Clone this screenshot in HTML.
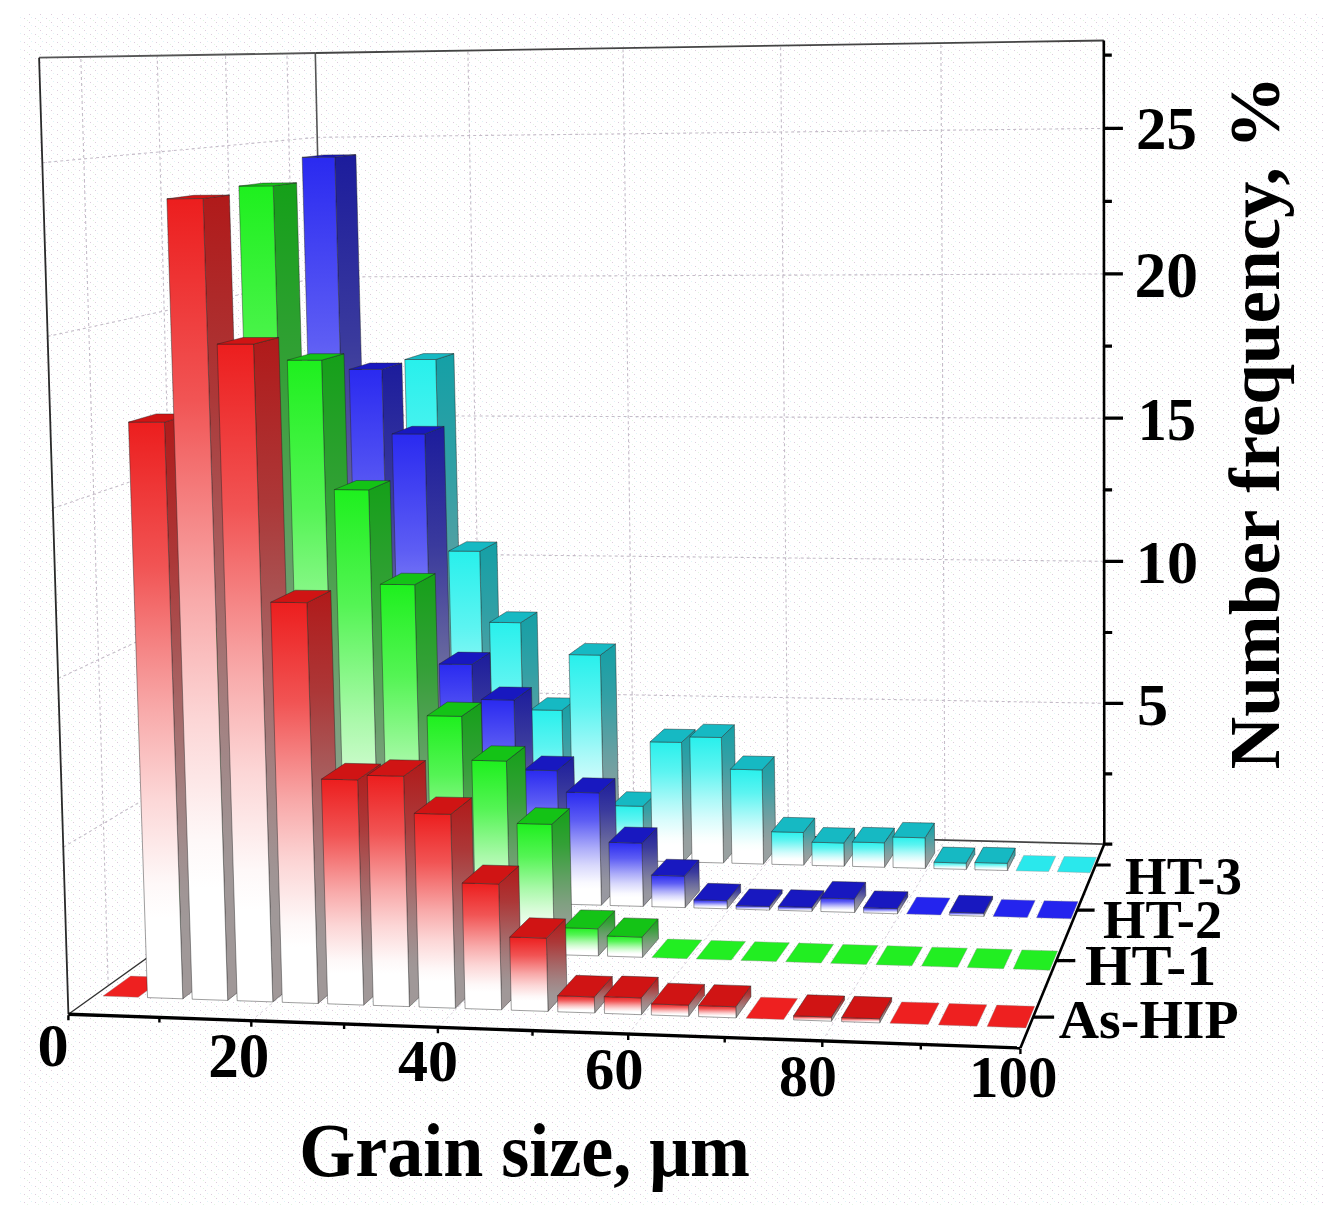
<!DOCTYPE html>
<html><head><meta charset="utf-8"><style>html,body{margin:0;padding:0;background:#fff;}svg{display:block;}</style></head>
<body><svg width="1344" height="1222" viewBox="0 0 1344 1222">
<defs>
<pattern id="dots" width="11" height="8" patternUnits="userSpaceOnUse"><rect x="2" y="2" width="1" height="1" fill="#dccbdc"/><rect x="7" y="6" width="1" height="1" fill="#dccbdc"/><rect x="5" y="4" width="1" height="1" fill="#e2f6e2"/><rect x="9" y="1" width="1" height="1" fill="#e0f4f8"/></pattern>
<linearGradient id="f0" x1="0" y1="0" x2="0" y2="1"><stop offset="0" stop-color="#ec1e1e"/><stop offset="0.25" stop-color="#f15454"/><stop offset="0.5" stop-color="#f8aaaa"/><stop offset="0.65" stop-color="#fcd6d6"/><stop offset="0.8" stop-color="#fef8f8"/><stop offset="0.86" stop-color="#ffffff"/></linearGradient>
<linearGradient id="s0" x1="0" y1="0" x2="0" y2="1"><stop offset="0" stop-color="#b01a1a"/><stop offset="0.25" stop-color="#ac3838"/><stop offset="0.5" stop-color="#a66868"/><stop offset="0.65" stop-color="#a38181"/><stop offset="0.8" stop-color="#a09494"/><stop offset="0.86" stop-color="#a09898"/></linearGradient>
<linearGradient id="f1" x1="0" y1="0" x2="0" y2="1"><stop offset="0" stop-color="#1ef01e"/><stop offset="0.25" stop-color="#54f454"/><stop offset="0.5" stop-color="#aaf9aa"/><stop offset="0.65" stop-color="#d6fcd6"/><stop offset="0.8" stop-color="#f8fff8"/><stop offset="0.86" stop-color="#ffffff"/></linearGradient>
<linearGradient id="s1" x1="0" y1="0" x2="0" y2="1"><stop offset="0" stop-color="#15a019"/><stop offset="0.25" stop-color="#34a037"/><stop offset="0.5" stop-color="#66a068"/><stop offset="0.65" stop-color="#80a081"/><stop offset="0.8" stop-color="#94a094"/><stop offset="0.86" stop-color="#98a098"/></linearGradient>
<linearGradient id="f2" x1="0" y1="0" x2="0" y2="1"><stop offset="0" stop-color="#2a2af0"/><stop offset="0.25" stop-color="#5d5df4"/><stop offset="0.5" stop-color="#aeaef9"/><stop offset="0.65" stop-color="#d9d9fc"/><stop offset="0.8" stop-color="#f9f9ff"/><stop offset="0.86" stop-color="#ffffff"/></linearGradient>
<linearGradient id="s2" x1="0" y1="0" x2="0" y2="1"><stop offset="0" stop-color="#1c1c9c"/><stop offset="0.25" stop-color="#3a3a9d"/><stop offset="0.5" stop-color="#69699e"/><stop offset="0.65" stop-color="#82829f"/><stop offset="0.8" stop-color="#9494a0"/><stop offset="0.86" stop-color="#9898a0"/></linearGradient>
<linearGradient id="f3" x1="0" y1="0" x2="0" y2="1"><stop offset="0" stop-color="#28f0ec"/><stop offset="0.25" stop-color="#5cf4f1"/><stop offset="0.5" stop-color="#adf9f8"/><stop offset="0.65" stop-color="#d8fcfc"/><stop offset="0.8" stop-color="#f9fffe"/><stop offset="0.86" stop-color="#ffffff"/></linearGradient>
<linearGradient id="s3" x1="0" y1="0" x2="0" y2="1"><stop offset="0" stop-color="#14a0a6"/><stop offset="0.25" stop-color="#34a0a5"/><stop offset="0.5" stop-color="#66a0a2"/><stop offset="0.65" stop-color="#80a0a1"/><stop offset="0.8" stop-color="#94a0a0"/><stop offset="0.86" stop-color="#98a0a0"/></linearGradient>
</defs>
<rect width="1344" height="1222" fill="#fff"/>
<rect x="20" y="13" width="1305" height="1192" fill="url(#dots)"/>
<path d="M482.3 828.5L467.9 50.5M634.1 832.3L623.0 48.1M788.3 836.2L780.6 45.6M945.0 840.1L940.9 43.1M329.8 689.5L1104.2 703.3M63.3 847.2L329.8 689.5M326.7 553.0L1104.1 561.3M58.1 678.6L326.7 553.0M323.6 415.5L1104.0 418.2M52.9 508.3L323.6 415.5M320.4 277.0L1103.9 273.9M47.6 336.4L320.4 277.0M317.2 137.3L1103.9 128.4M42.3 162.7L317.2 137.3M108.2 985.7L80.8 57.0M181.2 933.4L157.2 55.7M246.6 886.6L225.5 54.5M305.6 844.4L286.9 53.4" stroke="#c4bcc8" stroke-width="1.1" stroke-dasharray="3 3" fill="none"/>
<path d="M251.3 1020.7L482.3 828.5M437.9 1027.3L634.1 832.3M628.2 1034.1L788.3 836.2M822.3 1041.0L945.0 840.1" stroke="#d8d2dc" stroke-width="1" stroke-dasharray="3 3" fill="none"/>
<line x1="332.9" y1="824.8" x2="315.3" y2="53.0" stroke="#555" stroke-width="1.6"/>
<line x1="39.1" y1="57.7" x2="315.3" y2="53.0" stroke="#555" stroke-width="1.8"/>
<line x1="315.3" y1="53.0" x2="1103.8" y2="40.5" stroke="#444" stroke-width="1.8"/>
<line x1="332.9" y1="824.8" x2="1104.3" y2="844.1" stroke="#444" stroke-width="1.8"/>
<line x1="68.4" y1="1014.2" x2="332.9" y2="824.8" stroke="#333" stroke-width="1.4"/>
<polygon points="331.7,838.7 351.3,824.4 351.7,838.2 332.1,852.6" fill="url(#s3)" stroke="#222" stroke-width="0.8" stroke-opacity="0.55" stroke-linejoin="round"/>
<polygon points="301.5,837.9 331.7,838.7 332.1,852.6 301.9,851.8" fill="url(#f3)" stroke="#222" stroke-width="0.8" stroke-opacity="0.55" stroke-linejoin="round"/>
<polygon points="301.5,837.9 331.7,838.7 351.3,824.4 321.6,823.7" fill="#16b9c3" stroke="#222" stroke-width="0.8" stroke-opacity="0.55" stroke-linejoin="round"/>
<polygon points="367.6,741.4 386.6,728.8 389.5,839.1 370.6,853.7" fill="url(#s3)" stroke="#222" stroke-width="0.8" stroke-opacity="0.55" stroke-linejoin="round"/>
<polygon points="337.1,740.8 367.6,741.4 370.6,853.7 340.2,852.9" fill="url(#f3)" stroke="#222" stroke-width="0.8" stroke-opacity="0.55" stroke-linejoin="round"/>
<polygon points="337.1,740.8 367.6,741.4 386.6,728.8 356.7,728.2" fill="#16b9c3" stroke="#222" stroke-width="0.8" stroke-opacity="0.55" stroke-linejoin="round"/>
<polygon points="400.5,515.1 419.1,506.4 427.4,840.1 409.1,854.7" fill="url(#s3)" stroke="#222" stroke-width="0.8" stroke-opacity="0.55" stroke-linejoin="round"/>
<polygon points="369.7,514.8 400.5,515.1 409.1,854.7 378.6,853.9" fill="url(#f3)" stroke="#222" stroke-width="0.8" stroke-opacity="0.55" stroke-linejoin="round"/>
<polygon points="369.7,514.8 400.5,515.1 419.1,506.4 388.9,506.2" fill="#16b9c3" stroke="#222" stroke-width="0.8" stroke-opacity="0.55" stroke-linejoin="round"/>
<polygon points="435.8,359.5 453.9,353.6 465.5,841.1 447.9,855.7" fill="url(#s3)" stroke="#222" stroke-width="0.8" stroke-opacity="0.55" stroke-linejoin="round"/>
<polygon points="404.8,359.5 435.8,359.5 447.9,855.7 417.2,854.9" fill="url(#f3)" stroke="#222" stroke-width="0.8" stroke-opacity="0.55" stroke-linejoin="round"/>
<polygon points="404.8,359.5 435.8,359.5 453.9,353.6 423.4,353.6" fill="#16b9c3" stroke="#222" stroke-width="0.8" stroke-opacity="0.55" stroke-linejoin="round"/>
<polygon points="479.7,551.3 496.9,542.0 503.7,842.1 486.8,856.7" fill="url(#s3)" stroke="#222" stroke-width="0.8" stroke-opacity="0.55" stroke-linejoin="round"/>
<polygon points="448.7,551.0 479.7,551.3 486.8,856.7 456.0,855.9" fill="url(#f3)" stroke="#222" stroke-width="0.8" stroke-opacity="0.55" stroke-linejoin="round"/>
<polygon points="448.7,551.0 479.7,551.3 496.9,542.0 466.5,541.7" fill="#16b9c3" stroke="#222" stroke-width="0.8" stroke-opacity="0.55" stroke-linejoin="round"/>
<polygon points="520.6,622.7 537.1,612.1 542.1,843.0 525.8,857.8" fill="url(#s3)" stroke="#222" stroke-width="0.8" stroke-opacity="0.55" stroke-linejoin="round"/>
<polygon points="489.6,622.3 520.6,622.7 525.8,857.8 494.9,857.0" fill="url(#f3)" stroke="#222" stroke-width="0.8" stroke-opacity="0.55" stroke-linejoin="round"/>
<polygon points="489.6,622.3 520.6,622.7 537.1,612.1 506.6,611.7" fill="#16b9c3" stroke="#222" stroke-width="0.8" stroke-opacity="0.55" stroke-linejoin="round"/>
<polygon points="561.9,710.4 577.7,698.2 580.6,844.0 565.0,858.8" fill="url(#s3)" stroke="#222" stroke-width="0.8" stroke-opacity="0.55" stroke-linejoin="round"/>
<polygon points="530.8,709.8 561.9,710.4 565.0,858.8 534.0,858.0" fill="url(#f3)" stroke="#222" stroke-width="0.8" stroke-opacity="0.55" stroke-linejoin="round"/>
<polygon points="530.8,709.8 561.9,710.4 577.7,698.2 547.1,697.7" fill="#16b9c3" stroke="#222" stroke-width="0.8" stroke-opacity="0.55" stroke-linejoin="round"/>
<polygon points="600.3,655.1 615.5,643.9 619.3,845.0 604.4,859.9" fill="url(#s3)" stroke="#222" stroke-width="0.8" stroke-opacity="0.55" stroke-linejoin="round"/>
<polygon points="569.1,654.6 600.3,655.1 604.4,859.9 573.3,859.0" fill="url(#f3)" stroke="#222" stroke-width="0.8" stroke-opacity="0.55" stroke-linejoin="round"/>
<polygon points="569.1,654.6 600.3,655.1 615.5,643.9 584.7,643.4" fill="#16b9c3" stroke="#222" stroke-width="0.8" stroke-opacity="0.55" stroke-linejoin="round"/>
<polygon points="642.9,806.3 657.2,792.4 658.2,846.0 643.9,860.9" fill="url(#s3)" stroke="#222" stroke-width="0.8" stroke-opacity="0.55" stroke-linejoin="round"/>
<polygon points="611.6,805.6 642.9,806.3 643.9,860.9 612.7,860.1" fill="url(#f3)" stroke="#222" stroke-width="0.8" stroke-opacity="0.55" stroke-linejoin="round"/>
<polygon points="611.6,805.6 642.9,806.3 657.2,792.4 626.5,791.7" fill="#16b9c3" stroke="#222" stroke-width="0.8" stroke-opacity="0.55" stroke-linejoin="round"/>
<polygon points="681.5,742.4 695.2,729.6 697.2,847.0 683.6,861.9" fill="url(#s3)" stroke="#222" stroke-width="0.8" stroke-opacity="0.55" stroke-linejoin="round"/>
<polygon points="650.1,741.8 681.5,742.4 683.6,861.9 652.3,861.1" fill="url(#f3)" stroke="#222" stroke-width="0.8" stroke-opacity="0.55" stroke-linejoin="round"/>
<polygon points="650.1,741.8 681.5,742.4 695.2,729.6 664.3,729.0" fill="#16b9c3" stroke="#222" stroke-width="0.8" stroke-opacity="0.55" stroke-linejoin="round"/>
<polygon points="721.4,737.5 734.4,724.8 736.4,848.0 723.5,863.0" fill="url(#s3)" stroke="#222" stroke-width="0.8" stroke-opacity="0.55" stroke-linejoin="round"/>
<polygon points="689.8,736.9 721.4,737.5 723.5,863.0 692.0,862.2" fill="url(#f3)" stroke="#222" stroke-width="0.8" stroke-opacity="0.55" stroke-linejoin="round"/>
<polygon points="689.8,736.9 721.4,737.5 734.4,724.8 703.4,724.2" fill="#16b9c3" stroke="#222" stroke-width="0.8" stroke-opacity="0.55" stroke-linejoin="round"/>
<polygon points="762.1,769.9 774.3,756.6 775.7,849.0 763.5,864.1" fill="url(#s3)" stroke="#222" stroke-width="0.8" stroke-opacity="0.55" stroke-linejoin="round"/>
<polygon points="730.4,769.2 762.1,769.9 763.5,864.1 731.9,863.2" fill="url(#f3)" stroke="#222" stroke-width="0.8" stroke-opacity="0.55" stroke-linejoin="round"/>
<polygon points="730.4,769.2 762.1,769.9 774.3,756.6 743.2,755.9" fill="#16b9c3" stroke="#222" stroke-width="0.8" stroke-opacity="0.55" stroke-linejoin="round"/>
<polygon points="803.3,832.5 814.8,818.0 815.2,850.1 803.7,865.1" fill="url(#s3)" stroke="#222" stroke-width="0.8" stroke-opacity="0.55" stroke-linejoin="round"/>
<polygon points="771.5,831.7 803.3,832.5 803.7,865.1 771.9,864.3" fill="url(#f3)" stroke="#222" stroke-width="0.8" stroke-opacity="0.55" stroke-linejoin="round"/>
<polygon points="771.5,831.7 803.3,832.5 814.8,818.0 783.5,817.3" fill="#16b9c3" stroke="#222" stroke-width="0.8" stroke-opacity="0.55" stroke-linejoin="round"/>
<polygon points="843.8,843.0 854.6,828.3 854.9,851.1 844.1,866.2" fill="url(#s3)" stroke="#222" stroke-width="0.8" stroke-opacity="0.55" stroke-linejoin="round"/>
<polygon points="811.9,842.2 843.8,843.0 844.1,866.2 812.2,865.4" fill="url(#f3)" stroke="#222" stroke-width="0.8" stroke-opacity="0.55" stroke-linejoin="round"/>
<polygon points="811.9,842.2 843.8,843.0 854.6,828.3 823.2,827.5" fill="#16b9c3" stroke="#222" stroke-width="0.8" stroke-opacity="0.55" stroke-linejoin="round"/>
<polygon points="884.3,842.8 894.4,828.1 894.7,852.1 884.6,867.3" fill="url(#s3)" stroke="#222" stroke-width="0.8" stroke-opacity="0.55" stroke-linejoin="round"/>
<polygon points="852.3,842.0 884.3,842.8 884.6,867.3 852.6,866.4" fill="url(#f3)" stroke="#222" stroke-width="0.8" stroke-opacity="0.55" stroke-linejoin="round"/>
<polygon points="852.3,842.0 884.3,842.8 894.4,828.1 862.9,827.3" fill="#16b9c3" stroke="#222" stroke-width="0.8" stroke-opacity="0.55" stroke-linejoin="round"/>
<polygon points="925.0,837.8 934.4,823.1 934.7,853.1 925.3,868.4" fill="url(#s3)" stroke="#222" stroke-width="0.8" stroke-opacity="0.55" stroke-linejoin="round"/>
<polygon points="892.8,837.0 925.0,837.8 925.3,868.4 893.1,867.5" fill="url(#f3)" stroke="#222" stroke-width="0.8" stroke-opacity="0.55" stroke-linejoin="round"/>
<polygon points="892.8,837.0 925.0,837.8 934.4,823.1 902.7,822.4" fill="#16b9c3" stroke="#222" stroke-width="0.8" stroke-opacity="0.55" stroke-linejoin="round"/>
<polygon points="966.2,863.1 974.8,847.9 974.9,854.2 966.3,869.4" fill="url(#s3)" stroke="#222" stroke-width="0.8" stroke-opacity="0.55" stroke-linejoin="round"/>
<polygon points="933.9,862.2 966.2,863.1 966.3,869.4 933.9,868.6" fill="url(#f3)" stroke="#222" stroke-width="0.8" stroke-opacity="0.55" stroke-linejoin="round"/>
<polygon points="933.9,862.2 966.2,863.1 974.8,847.9 943.1,847.1" fill="#16b9c3" stroke="#222" stroke-width="0.8" stroke-opacity="0.55" stroke-linejoin="round"/>
<polygon points="1007.3,863.3 1015.2,848.1 1015.2,855.2 1007.4,870.5" fill="url(#s3)" stroke="#222" stroke-width="0.8" stroke-opacity="0.55" stroke-linejoin="round"/>
<polygon points="974.8,862.5 1007.3,863.3 1007.4,870.5 974.9,869.7" fill="url(#f3)" stroke="#222" stroke-width="0.8" stroke-opacity="0.55" stroke-linejoin="round"/>
<polygon points="974.8,862.5 1007.3,863.3 1015.2,848.1 983.3,847.3" fill="#16b9c3" stroke="#222" stroke-width="0.8" stroke-opacity="0.55" stroke-linejoin="round"/>
<polygon points="1016.0,870.8 1048.6,871.6 1055.8,856.2 1023.7,855.4" fill="#2ae8ec" stroke="#888" stroke-width="0.6" stroke-opacity="0.6"/>
<polygon points="1057.3,871.8 1090.1,872.7 1096.5,857.3 1064.3,856.5" fill="#2ae8ec" stroke="#888" stroke-width="0.6" stroke-opacity="0.6"/>
<polygon points="273.1,866.4 294.8,850.9 295.6,879.7 274.0,895.8" fill="url(#s2)" stroke="#222" stroke-width="0.8" stroke-opacity="0.55" stroke-linejoin="round"/>
<polygon points="241.4,865.5 273.1,866.4 274.0,895.8 242.3,894.9" fill="url(#f2)" stroke="#222" stroke-width="0.8" stroke-opacity="0.55" stroke-linejoin="round"/>
<polygon points="241.4,865.5 273.1,866.4 294.8,850.9 263.6,850.1" fill="#1818c0" stroke="#222" stroke-width="0.8" stroke-opacity="0.55" stroke-linejoin="round"/>
<polygon points="307.6,660.0 328.9,648.3 335.2,880.8 314.3,896.9" fill="url(#s2)" stroke="#222" stroke-width="0.8" stroke-opacity="0.55" stroke-linejoin="round"/>
<polygon points="275.6,659.5 307.6,660.0 314.3,896.9 282.4,896.0" fill="url(#f2)" stroke="#222" stroke-width="0.8" stroke-opacity="0.55" stroke-linejoin="round"/>
<polygon points="275.6,659.5 307.6,660.0 328.9,648.3 297.3,647.8" fill="#1818c0" stroke="#222" stroke-width="0.8" stroke-opacity="0.55" stroke-linejoin="round"/>
<polygon points="334.8,157.0 355.9,154.7 375.0,882.0 354.8,898.1" fill="url(#s2)" stroke="#222" stroke-width="0.8" stroke-opacity="0.55" stroke-linejoin="round"/>
<polygon points="302.2,157.4 334.8,157.0 354.8,898.1 322.8,897.2" fill="url(#f2)" stroke="#222" stroke-width="0.8" stroke-opacity="0.55" stroke-linejoin="round"/>
<polygon points="302.2,157.4 334.8,157.0 355.9,154.7 323.8,155.0" fill="#1818c0" stroke="#222" stroke-width="0.8" stroke-opacity="0.55" stroke-linejoin="round"/>
<polygon points="381.8,369.4 401.9,363.1 415.0,883.1 395.5,899.3" fill="url(#s2)" stroke="#222" stroke-width="0.8" stroke-opacity="0.55" stroke-linejoin="round"/>
<polygon points="349.2,369.4 381.8,369.4 395.5,899.3 363.3,898.3" fill="url(#f2)" stroke="#222" stroke-width="0.8" stroke-opacity="0.55" stroke-linejoin="round"/>
<polygon points="349.2,369.4 381.8,369.4 401.9,363.1 369.8,363.0" fill="#1818c0" stroke="#222" stroke-width="0.8" stroke-opacity="0.55" stroke-linejoin="round"/>
<polygon points="424.8,434.0 444.1,426.4 455.1,884.2 436.3,900.5" fill="url(#s2)" stroke="#222" stroke-width="0.8" stroke-opacity="0.55" stroke-linejoin="round"/>
<polygon points="392.1,433.9 424.8,434.0 436.3,900.5 404.0,899.5" fill="url(#f2)" stroke="#222" stroke-width="0.8" stroke-opacity="0.55" stroke-linejoin="round"/>
<polygon points="392.1,433.9 424.8,434.0 444.1,426.4 412.0,426.3" fill="#1818c0" stroke="#222" stroke-width="0.8" stroke-opacity="0.55" stroke-linejoin="round"/>
<polygon points="471.8,664.5 490.0,652.6 495.4,885.3 477.3,901.6" fill="url(#s2)" stroke="#222" stroke-width="0.8" stroke-opacity="0.55" stroke-linejoin="round"/>
<polygon points="439.1,664.0 471.8,664.5 477.3,901.6 444.9,900.7" fill="url(#f2)" stroke="#222" stroke-width="0.8" stroke-opacity="0.55" stroke-linejoin="round"/>
<polygon points="439.1,664.0 471.8,664.5 490.0,652.6 458.0,652.1" fill="#1818c0" stroke="#222" stroke-width="0.8" stroke-opacity="0.55" stroke-linejoin="round"/>
<polygon points="514.0,700.1 531.5,687.5 535.8,886.4 518.5,902.8" fill="url(#s2)" stroke="#222" stroke-width="0.8" stroke-opacity="0.55" stroke-linejoin="round"/>
<polygon points="481.3,699.5 514.0,700.1 518.5,902.8 486.0,901.9" fill="url(#f2)" stroke="#222" stroke-width="0.8" stroke-opacity="0.55" stroke-linejoin="round"/>
<polygon points="481.3,699.5 514.0,700.1 531.5,687.5 499.4,686.9" fill="#1818c0" stroke="#222" stroke-width="0.8" stroke-opacity="0.55" stroke-linejoin="round"/>
<polygon points="557.1,770.7 573.8,756.7 576.5,887.6 559.9,904.0" fill="url(#s2)" stroke="#222" stroke-width="0.8" stroke-opacity="0.55" stroke-linejoin="round"/>
<polygon points="524.3,769.9 557.1,770.7 559.9,904.0 527.2,903.1" fill="url(#f2)" stroke="#222" stroke-width="0.8" stroke-opacity="0.55" stroke-linejoin="round"/>
<polygon points="524.3,769.9 557.1,770.7 573.8,756.7 541.5,756.0" fill="#1818c0" stroke="#222" stroke-width="0.8" stroke-opacity="0.55" stroke-linejoin="round"/>
<polygon points="599.2,792.9 615.1,778.5 617.3,888.7 601.4,905.2" fill="url(#s2)" stroke="#222" stroke-width="0.8" stroke-opacity="0.55" stroke-linejoin="round"/>
<polygon points="566.3,792.2 599.2,792.9 601.4,905.2 568.6,904.3" fill="url(#f2)" stroke="#222" stroke-width="0.8" stroke-opacity="0.55" stroke-linejoin="round"/>
<polygon points="566.3,792.2 599.2,792.9 615.1,778.5 582.8,777.8" fill="#1818c0" stroke="#222" stroke-width="0.8" stroke-opacity="0.55" stroke-linejoin="round"/>
<polygon points="642.0,843.2 657.1,827.8 658.2,889.9 643.2,906.4" fill="url(#s2)" stroke="#222" stroke-width="0.8" stroke-opacity="0.55" stroke-linejoin="round"/>
<polygon points="608.9,842.3 642.0,843.2 643.2,906.4 610.2,905.5" fill="url(#f2)" stroke="#222" stroke-width="0.8" stroke-opacity="0.55" stroke-linejoin="round"/>
<polygon points="608.9,842.3 642.0,843.2 657.1,827.8 624.7,827.0" fill="#1818c0" stroke="#222" stroke-width="0.8" stroke-opacity="0.55" stroke-linejoin="round"/>
<polygon points="684.5,876.1 698.9,860.1 699.4,891.0 685.1,907.6" fill="url(#s2)" stroke="#222" stroke-width="0.8" stroke-opacity="0.55" stroke-linejoin="round"/>
<polygon points="651.4,875.2 684.5,876.1 685.1,907.6 652.0,906.7" fill="url(#f2)" stroke="#222" stroke-width="0.8" stroke-opacity="0.55" stroke-linejoin="round"/>
<polygon points="651.4,875.2 684.5,876.1 698.9,860.1 666.3,859.2" fill="#1818c0" stroke="#222" stroke-width="0.8" stroke-opacity="0.55" stroke-linejoin="round"/>
<polygon points="727.0,900.7 740.6,884.2 740.7,892.2 727.2,908.8" fill="url(#s2)" stroke="#222" stroke-width="0.8" stroke-opacity="0.55" stroke-linejoin="round"/>
<polygon points="693.8,899.8 727.0,900.7 727.2,908.8 693.9,907.9" fill="url(#f2)" stroke="#222" stroke-width="0.8" stroke-opacity="0.55" stroke-linejoin="round"/>
<polygon points="693.8,899.8 727.0,900.7 740.6,884.2 707.9,883.3" fill="#1818c0" stroke="#222" stroke-width="0.8" stroke-opacity="0.55" stroke-linejoin="round"/>
<polygon points="769.4,906.5 782.2,889.8 782.2,893.3 769.5,910.1" fill="url(#s2)" stroke="#222" stroke-width="0.8" stroke-opacity="0.55" stroke-linejoin="round"/>
<polygon points="736.0,905.5 769.4,906.5 769.5,910.1 736.0,909.1" fill="url(#f2)" stroke="#222" stroke-width="0.8" stroke-opacity="0.55" stroke-linejoin="round"/>
<polygon points="736.0,905.5 769.4,906.5 782.2,889.8 749.4,888.9" fill="#1818c0" stroke="#222" stroke-width="0.8" stroke-opacity="0.55" stroke-linejoin="round"/>
<polygon points="811.9,907.4 823.8,890.7 823.9,894.5 811.9,911.3" fill="url(#s2)" stroke="#222" stroke-width="0.8" stroke-opacity="0.55" stroke-linejoin="round"/>
<polygon points="778.3,906.4 811.9,907.4 811.9,911.3 778.4,910.3" fill="url(#f2)" stroke="#222" stroke-width="0.8" stroke-opacity="0.55" stroke-linejoin="round"/>
<polygon points="778.3,906.4 811.9,907.4 823.8,890.7 790.9,889.7" fill="#1818c0" stroke="#222" stroke-width="0.8" stroke-opacity="0.55" stroke-linejoin="round"/>
<polygon points="854.4,898.9 865.6,882.3 865.8,895.7 854.6,912.5" fill="url(#s2)" stroke="#222" stroke-width="0.8" stroke-opacity="0.55" stroke-linejoin="round"/>
<polygon points="820.7,898.0 854.4,898.9 854.6,912.5 820.9,911.5" fill="url(#f2)" stroke="#222" stroke-width="0.8" stroke-opacity="0.55" stroke-linejoin="round"/>
<polygon points="820.7,898.0 854.4,898.9 865.6,882.3 832.5,881.4" fill="#1818c0" stroke="#222" stroke-width="0.8" stroke-opacity="0.55" stroke-linejoin="round"/>
<polygon points="897.4,908.6 907.8,891.8 907.9,896.9 897.5,913.8" fill="url(#s2)" stroke="#222" stroke-width="0.8" stroke-opacity="0.55" stroke-linejoin="round"/>
<polygon points="863.5,907.6 897.4,908.6 897.5,913.8 863.6,912.8" fill="url(#f2)" stroke="#222" stroke-width="0.8" stroke-opacity="0.55" stroke-linejoin="round"/>
<polygon points="863.5,907.6 897.4,908.6 907.8,891.8 874.5,890.9" fill="#1818c0" stroke="#222" stroke-width="0.8" stroke-opacity="0.55" stroke-linejoin="round"/>
<polygon points="906.5,914.0 940.6,915.0 950.1,898.0 916.7,897.1" fill="#2424ee" stroke="#888" stroke-width="0.6" stroke-opacity="0.6"/>
<polygon points="983.8,913.2 992.6,896.2 992.6,899.2 983.8,916.3" fill="url(#s2)" stroke="#222" stroke-width="0.8" stroke-opacity="0.55" stroke-linejoin="round"/>
<polygon points="949.6,912.2 983.8,913.2 983.8,916.3 949.6,915.3" fill="url(#f2)" stroke="#222" stroke-width="0.8" stroke-opacity="0.55" stroke-linejoin="round"/>
<polygon points="949.6,912.2 983.8,913.2 992.6,896.2 959.0,895.3" fill="#1818c0" stroke="#222" stroke-width="0.8" stroke-opacity="0.55" stroke-linejoin="round"/>
<polygon points="993.0,916.5 1027.3,917.5 1035.2,900.4 1001.5,899.5" fill="#2424ee" stroke="#888" stroke-width="0.6" stroke-opacity="0.6"/>
<polygon points="1036.5,917.8 1071.0,918.8 1078.1,901.6 1044.2,900.7" fill="#2424ee" stroke="#888" stroke-width="0.6" stroke-opacity="0.6"/>
<polygon points="208.2,881.7 232.3,865.1 234.2,925.9 210.1,943.7" fill="url(#s1)" stroke="#222" stroke-width="0.8" stroke-opacity="0.55" stroke-linejoin="round"/>
<polygon points="174.8,880.8 208.2,881.7 210.1,943.7 176.8,942.7" fill="url(#f1)" stroke="#222" stroke-width="0.8" stroke-opacity="0.55" stroke-linejoin="round"/>
<polygon points="174.8,880.8 208.2,881.7 232.3,865.1 199.5,864.2" fill="#14c316" stroke="#222" stroke-width="0.8" stroke-opacity="0.55" stroke-linejoin="round"/>
<polygon points="243.1,632.2 266.8,620.3 275.8,927.1 252.5,945.1" fill="url(#s1)" stroke="#222" stroke-width="0.8" stroke-opacity="0.55" stroke-linejoin="round"/>
<polygon points="209.3,631.7 243.1,632.2 252.5,945.1 219.0,944.0" fill="url(#f1)" stroke="#222" stroke-width="0.8" stroke-opacity="0.55" stroke-linejoin="round"/>
<polygon points="209.3,631.7 243.1,632.2 266.8,620.3 233.6,619.8" fill="#14c316" stroke="#222" stroke-width="0.8" stroke-opacity="0.55" stroke-linejoin="round"/>
<polygon points="273.2,185.8 296.6,182.8 317.5,928.4 295.0,946.4" fill="url(#s1)" stroke="#222" stroke-width="0.8" stroke-opacity="0.55" stroke-linejoin="round"/>
<polygon points="238.9,186.1 273.2,185.8 295.0,946.4 261.4,945.3" fill="url(#f1)" stroke="#222" stroke-width="0.8" stroke-opacity="0.55" stroke-linejoin="round"/>
<polygon points="238.9,186.1 273.2,185.8 296.6,182.8 262.9,183.1" fill="#14c316" stroke="#222" stroke-width="0.8" stroke-opacity="0.55" stroke-linejoin="round"/>
<polygon points="321.6,360.2 344.0,353.7 359.5,929.7 337.8,947.7" fill="url(#s1)" stroke="#222" stroke-width="0.8" stroke-opacity="0.55" stroke-linejoin="round"/>
<polygon points="287.3,360.2 321.6,360.2 337.8,947.7 304.0,946.7" fill="url(#f1)" stroke="#222" stroke-width="0.8" stroke-opacity="0.55" stroke-linejoin="round"/>
<polygon points="287.3,360.2 321.6,360.2 344.0,353.7 310.3,353.7" fill="#14c316" stroke="#222" stroke-width="0.8" stroke-opacity="0.55" stroke-linejoin="round"/>
<polygon points="368.7,489.9 390.1,480.7 401.6,931.0 380.7,949.1" fill="url(#s1)" stroke="#222" stroke-width="0.8" stroke-opacity="0.55" stroke-linejoin="round"/>
<polygon points="334.3,489.6 368.7,489.9 380.7,949.1 346.8,948.0" fill="url(#f1)" stroke="#222" stroke-width="0.8" stroke-opacity="0.55" stroke-linejoin="round"/>
<polygon points="334.3,489.6 368.7,489.9 390.1,480.7 356.4,480.5" fill="#14c316" stroke="#222" stroke-width="0.8" stroke-opacity="0.55" stroke-linejoin="round"/>
<polygon points="414.7,584.7 435.2,573.6 444.0,932.3 423.8,950.5" fill="url(#s1)" stroke="#222" stroke-width="0.8" stroke-opacity="0.55" stroke-linejoin="round"/>
<polygon points="380.3,584.3 414.7,584.7 423.8,950.5 389.7,949.4" fill="url(#f1)" stroke="#222" stroke-width="0.8" stroke-opacity="0.55" stroke-linejoin="round"/>
<polygon points="380.3,584.3 414.7,584.7 435.2,573.6 401.4,573.2" fill="#14c316" stroke="#222" stroke-width="0.8" stroke-opacity="0.55" stroke-linejoin="round"/>
<polygon points="461.6,716.3 481.1,702.7 486.5,933.6 467.2,951.8" fill="url(#s1)" stroke="#222" stroke-width="0.8" stroke-opacity="0.55" stroke-linejoin="round"/>
<polygon points="427.1,715.7 461.6,716.3 467.2,951.8 432.9,950.7" fill="url(#f1)" stroke="#222" stroke-width="0.8" stroke-opacity="0.55" stroke-linejoin="round"/>
<polygon points="427.1,715.7 461.6,716.3 481.1,702.7 447.3,702.0" fill="#14c316" stroke="#222" stroke-width="0.8" stroke-opacity="0.55" stroke-linejoin="round"/>
<polygon points="506.4,761.1 525.1,746.5 529.2,934.9 510.7,953.2" fill="url(#s1)" stroke="#222" stroke-width="0.8" stroke-opacity="0.55" stroke-linejoin="round"/>
<polygon points="471.8,760.3 506.4,761.1 510.7,953.2 476.3,952.1" fill="url(#f1)" stroke="#222" stroke-width="0.8" stroke-opacity="0.55" stroke-linejoin="round"/>
<polygon points="471.8,760.3 506.4,761.1 525.1,746.5 491.1,745.8" fill="#14c316" stroke="#222" stroke-width="0.8" stroke-opacity="0.55" stroke-linejoin="round"/>
<polygon points="551.7,824.3 569.4,808.5 572.1,936.2 554.4,954.6" fill="url(#s1)" stroke="#222" stroke-width="0.8" stroke-opacity="0.55" stroke-linejoin="round"/>
<polygon points="517.0,823.5 551.7,824.3 554.4,954.6 519.9,953.5" fill="url(#f1)" stroke="#222" stroke-width="0.8" stroke-opacity="0.55" stroke-linejoin="round"/>
<polygon points="517.0,823.5 551.7,824.3 569.4,808.5 535.4,807.7" fill="#14c316" stroke="#222" stroke-width="0.8" stroke-opacity="0.55" stroke-linejoin="round"/>
<polygon points="597.8,928.8 614.7,910.8 615.2,937.5 598.4,955.9" fill="url(#s1)" stroke="#222" stroke-width="0.8" stroke-opacity="0.55" stroke-linejoin="round"/>
<polygon points="563.1,927.7 597.8,928.8 598.4,955.9 563.7,954.9" fill="url(#f1)" stroke="#222" stroke-width="0.8" stroke-opacity="0.55" stroke-linejoin="round"/>
<polygon points="563.1,927.7 597.8,928.8 614.7,910.8 580.6,909.9" fill="#14c316" stroke="#222" stroke-width="0.8" stroke-opacity="0.55" stroke-linejoin="round"/>
<polygon points="642.1,937.1 658.1,918.9 658.5,938.8 642.5,957.3" fill="url(#s1)" stroke="#222" stroke-width="0.8" stroke-opacity="0.55" stroke-linejoin="round"/>
<polygon points="607.2,936.0 642.1,937.1 642.5,957.3 607.6,956.2" fill="url(#f1)" stroke="#222" stroke-width="0.8" stroke-opacity="0.55" stroke-linejoin="round"/>
<polygon points="607.2,936.0 642.1,937.1 658.1,918.9 623.9,917.9" fill="#14c316" stroke="#222" stroke-width="0.8" stroke-opacity="0.55" stroke-linejoin="round"/>
<polygon points="651.8,957.6 686.9,958.7 702.0,940.1 667.6,939.1" fill="#22ee22" stroke="#888" stroke-width="0.6" stroke-opacity="0.6"/>
<polygon points="696.2,959.0 731.4,960.1 745.6,941.5 711.1,940.4" fill="#22ee22" stroke="#888" stroke-width="0.6" stroke-opacity="0.6"/>
<polygon points="740.8,960.4 776.2,961.5 789.5,942.8 754.8,941.7" fill="#22ee22" stroke="#888" stroke-width="0.6" stroke-opacity="0.6"/>
<polygon points="785.6,961.8 821.1,963.0 833.6,944.2 798.8,943.1" fill="#22ee22" stroke="#888" stroke-width="0.6" stroke-opacity="0.6"/>
<polygon points="830.6,963.3 866.4,964.4 878.0,945.5 842.9,944.4" fill="#22ee22" stroke="#888" stroke-width="0.6" stroke-opacity="0.6"/>
<polygon points="875.9,964.7 911.9,965.8 922.6,946.9 887.3,945.8" fill="#22ee22" stroke="#888" stroke-width="0.6" stroke-opacity="0.6"/>
<polygon points="921.5,966.1 957.6,967.3 967.4,948.2 932.0,947.2" fill="#22ee22" stroke="#888" stroke-width="0.6" stroke-opacity="0.6"/>
<polygon points="967.2,967.6 1003.5,968.7 1012.4,949.6 976.8,948.5" fill="#22ee22" stroke="#888" stroke-width="0.6" stroke-opacity="0.6"/>
<polygon points="1013.2,969.0 1049.7,970.2 1057.6,951.0 1021.9,949.9" fill="#22ee22" stroke="#888" stroke-width="0.6" stroke-opacity="0.6"/>
<polygon points="103.0,996.1 138.2,997.3 165.1,977.3 130.7,976.1" fill="#ee2020" stroke="#888" stroke-width="0.6" stroke-opacity="0.6"/>
<polygon points="164.4,422.2 191.3,414.0 208.9,978.8 182.8,998.8" fill="url(#s0)" stroke="#222" stroke-width="0.8" stroke-opacity="0.55" stroke-linejoin="round"/>
<polygon points="128.5,422.1 164.4,422.2 182.8,998.8 147.5,997.6" fill="url(#f0)" stroke="#222" stroke-width="0.8" stroke-opacity="0.55" stroke-linejoin="round"/>
<polygon points="128.5,422.1 164.4,422.2 191.3,414.0 156.2,413.9" fill="#d01414" stroke="#222" stroke-width="0.8" stroke-opacity="0.55" stroke-linejoin="round"/>
<polygon points="203.1,198.5 229.4,195.0 252.9,980.2 227.7,1000.4" fill="url(#s0)" stroke="#222" stroke-width="0.8" stroke-opacity="0.55" stroke-linejoin="round"/>
<polygon points="166.9,198.8 203.1,198.5 227.7,1000.4 192.2,999.2" fill="url(#f0)" stroke="#222" stroke-width="0.8" stroke-opacity="0.55" stroke-linejoin="round"/>
<polygon points="166.9,198.8 203.1,198.5 229.4,195.0 193.9,195.3" fill="#d01414" stroke="#222" stroke-width="0.8" stroke-opacity="0.55" stroke-linejoin="round"/>
<polygon points="253.5,344.1 278.7,337.5 297.2,981.7 272.8,1001.9" fill="url(#s0)" stroke="#222" stroke-width="0.8" stroke-opacity="0.55" stroke-linejoin="round"/>
<polygon points="217.2,344.1 253.5,344.1 272.8,1001.9 237.2,1000.7" fill="url(#f0)" stroke="#222" stroke-width="0.8" stroke-opacity="0.55" stroke-linejoin="round"/>
<polygon points="217.2,344.1 253.5,344.1 278.7,337.5 243.1,337.5" fill="#d01414" stroke="#222" stroke-width="0.8" stroke-opacity="0.55" stroke-linejoin="round"/>
<polygon points="306.9,602.7 330.8,590.6 341.6,983.2 318.1,1003.5" fill="url(#s0)" stroke="#222" stroke-width="0.8" stroke-opacity="0.55" stroke-linejoin="round"/>
<polygon points="270.7,602.2 306.9,602.7 318.1,1003.5 282.3,1002.3" fill="url(#f0)" stroke="#222" stroke-width="0.8" stroke-opacity="0.55" stroke-linejoin="round"/>
<polygon points="270.7,602.2 306.9,602.7 330.8,590.6 295.3,590.2" fill="#d01414" stroke="#222" stroke-width="0.8" stroke-opacity="0.55" stroke-linejoin="round"/>
<polygon points="357.6,779.9 380.5,764.1 386.2,984.7 363.7,1005.1" fill="url(#s0)" stroke="#222" stroke-width="0.8" stroke-opacity="0.55" stroke-linejoin="round"/>
<polygon points="321.4,779.1 357.6,779.9 363.7,1005.1 327.7,1003.8" fill="url(#f0)" stroke="#222" stroke-width="0.8" stroke-opacity="0.55" stroke-linejoin="round"/>
<polygon points="321.4,779.1 357.6,779.9 380.5,764.1 345.0,763.3" fill="#d01414" stroke="#222" stroke-width="0.8" stroke-opacity="0.55" stroke-linejoin="round"/>
<polygon points="403.6,776.2 425.5,760.5 431.1,986.2 409.4,1006.6" fill="url(#s0)" stroke="#222" stroke-width="0.8" stroke-opacity="0.55" stroke-linejoin="round"/>
<polygon points="367.2,775.4 403.6,776.2 409.4,1006.6 373.3,1005.4" fill="url(#f0)" stroke="#222" stroke-width="0.8" stroke-opacity="0.55" stroke-linejoin="round"/>
<polygon points="367.2,775.4 403.6,776.2 425.5,760.5 389.8,759.7" fill="#d01414" stroke="#222" stroke-width="0.8" stroke-opacity="0.55" stroke-linejoin="round"/>
<polygon points="450.7,814.3 471.7,797.7 476.1,987.7 455.4,1008.2" fill="url(#s0)" stroke="#222" stroke-width="0.8" stroke-opacity="0.55" stroke-linejoin="round"/>
<polygon points="414.2,813.4 450.7,814.3 455.4,1008.2 419.1,1007.0" fill="url(#f0)" stroke="#222" stroke-width="0.8" stroke-opacity="0.55" stroke-linejoin="round"/>
<polygon points="414.2,813.4 450.7,814.3 471.7,797.7 435.9,796.9" fill="#d01414" stroke="#222" stroke-width="0.8" stroke-opacity="0.55" stroke-linejoin="round"/>
<polygon points="498.7,884.0 518.7,866.0 521.4,989.2 501.6,1009.8" fill="url(#s0)" stroke="#222" stroke-width="0.8" stroke-opacity="0.55" stroke-linejoin="round"/>
<polygon points="462.1,883.0 498.7,884.0 501.6,1009.8 465.1,1008.6" fill="url(#f0)" stroke="#222" stroke-width="0.8" stroke-opacity="0.55" stroke-linejoin="round"/>
<polygon points="462.1,883.0 498.7,884.0 518.7,866.0 482.8,865.0" fill="#d01414" stroke="#222" stroke-width="0.8" stroke-opacity="0.55" stroke-linejoin="round"/>
<polygon points="546.4,938.1 565.4,918.9 566.9,990.7 548.0,1011.4" fill="url(#s0)" stroke="#222" stroke-width="0.8" stroke-opacity="0.55" stroke-linejoin="round"/>
<polygon points="509.7,937.0 546.4,938.1 548.0,1011.4 511.3,1010.2" fill="url(#f0)" stroke="#222" stroke-width="0.8" stroke-opacity="0.55" stroke-linejoin="round"/>
<polygon points="509.7,937.0 546.4,938.1 565.4,918.9 529.4,917.8" fill="#d01414" stroke="#222" stroke-width="0.8" stroke-opacity="0.55" stroke-linejoin="round"/>
<polygon points="594.3,997.0 612.3,976.5 612.6,992.2 594.7,1013.0" fill="url(#s0)" stroke="#222" stroke-width="0.8" stroke-opacity="0.55" stroke-linejoin="round"/>
<polygon points="557.5,995.7 594.3,997.0 594.7,1013.0 557.8,1011.8" fill="url(#f0)" stroke="#222" stroke-width="0.8" stroke-opacity="0.55" stroke-linejoin="round"/>
<polygon points="557.5,995.7 594.3,997.0 612.3,976.5 576.1,975.3" fill="#d01414" stroke="#222" stroke-width="0.8" stroke-opacity="0.55" stroke-linejoin="round"/>
<polygon points="641.2,997.9 658.2,977.3 658.5,993.8 641.5,1014.7" fill="url(#s0)" stroke="#222" stroke-width="0.8" stroke-opacity="0.55" stroke-linejoin="round"/>
<polygon points="604.2,996.6 641.2,997.9 641.5,1014.7 604.5,1013.4" fill="url(#f0)" stroke="#222" stroke-width="0.8" stroke-opacity="0.55" stroke-linejoin="round"/>
<polygon points="604.2,996.6 641.2,997.9 658.2,977.3 621.9,976.1" fill="#d01414" stroke="#222" stroke-width="0.8" stroke-opacity="0.55" stroke-linejoin="round"/>
<polygon points="688.5,1005.2 704.5,984.4 704.6,995.3 688.7,1016.3" fill="url(#s0)" stroke="#222" stroke-width="0.8" stroke-opacity="0.55" stroke-linejoin="round"/>
<polygon points="651.2,1003.9 688.5,1005.2 688.7,1016.3 651.4,1015.0" fill="url(#f0)" stroke="#222" stroke-width="0.8" stroke-opacity="0.55" stroke-linejoin="round"/>
<polygon points="651.2,1003.9 688.5,1005.2 704.5,984.4 668.0,983.2" fill="#d01414" stroke="#222" stroke-width="0.8" stroke-opacity="0.55" stroke-linejoin="round"/>
<polygon points="735.8,1006.8 750.8,985.9 751.0,996.8 736.0,1017.9" fill="url(#s0)" stroke="#222" stroke-width="0.8" stroke-opacity="0.55" stroke-linejoin="round"/>
<polygon points="698.4,1005.5 735.8,1006.8 736.0,1017.9 698.6,1016.6" fill="url(#f0)" stroke="#222" stroke-width="0.8" stroke-opacity="0.55" stroke-linejoin="round"/>
<polygon points="698.4,1005.5 735.8,1006.8 750.8,985.9 714.2,984.7" fill="#d01414" stroke="#222" stroke-width="0.8" stroke-opacity="0.55" stroke-linejoin="round"/>
<polygon points="746.0,1018.3 783.6,1019.6 797.6,998.4 760.8,997.2" fill="#ee2020" stroke="#888" stroke-width="0.6" stroke-opacity="0.6"/>
<polygon points="831.5,1017.1 844.5,996.0 844.6,1000.0 831.5,1021.2" fill="url(#s0)" stroke="#222" stroke-width="0.8" stroke-opacity="0.55" stroke-linejoin="round"/>
<polygon points="793.5,1015.8 831.5,1017.1 831.5,1021.2 793.6,1019.9" fill="url(#f0)" stroke="#222" stroke-width="0.8" stroke-opacity="0.55" stroke-linejoin="round"/>
<polygon points="793.5,1015.8 831.5,1017.1 844.5,996.0 807.4,994.8" fill="#d01414" stroke="#222" stroke-width="0.8" stroke-opacity="0.55" stroke-linejoin="round"/>
<polygon points="879.7,1018.8 891.7,997.6 891.7,1001.5 879.7,1022.9" fill="url(#s0)" stroke="#222" stroke-width="0.8" stroke-opacity="0.55" stroke-linejoin="round"/>
<polygon points="841.6,1017.5 879.7,1018.8 879.7,1022.9 841.6,1021.6" fill="url(#f0)" stroke="#222" stroke-width="0.8" stroke-opacity="0.55" stroke-linejoin="round"/>
<polygon points="841.6,1017.5 879.7,1018.8 891.7,997.6 854.4,996.3" fill="#d01414" stroke="#222" stroke-width="0.8" stroke-opacity="0.55" stroke-linejoin="round"/>
<polygon points="889.9,1023.2 928.1,1024.5 939.2,1003.1 901.7,1001.9" fill="#ee2020" stroke="#888" stroke-width="0.6" stroke-opacity="0.6"/>
<polygon points="938.4,1024.9 976.8,1026.2 986.8,1004.7 949.1,1003.5" fill="#ee2020" stroke="#888" stroke-width="0.6" stroke-opacity="0.6"/>
<polygon points="987.1,1026.6 1025.8,1027.9 1034.7,1006.3 996.8,1005.1" fill="#ee2020" stroke="#888" stroke-width="0.6" stroke-opacity="0.6"/>
<line x1="68.4" y1="1014.2" x2="39.1" y2="57.7" stroke="#2a2a2a" stroke-width="1.8"/>
<line x1="1104.3" y1="844.1" x2="1103.8" y2="40.5" stroke="#000" stroke-width="2.6"/>
<line x1="68.4" y1="1014.2" x2="1020.4" y2="1048.0" stroke="#000" stroke-width="3.4"/>
<line x1="1020.4" y1="1048.0" x2="1104.3" y2="844.1" stroke="#000" stroke-width="2.6"/>
<path d="M1104.2 773.8h8M1104.2 703.3h19M1104.2 632.5h8M1104.1 561.3h19M1104.1 489.9h8M1104.0 418.2h19M1104.0 346.2h8M1103.9 273.9h19M1103.9 201.3h8M1103.9 128.4h19M1103.8 55.2h8M1033.1 1017.1h21.0M1056.3 960.6h19.0M1077.1 910.2h17.5M1095.7 865.0h15.0M1104.3 844.1h8" stroke="#000" stroke-width="3.2" fill="none"/>
<path d="M68.4 1015.2v5M159.4 1018.4v4M251.3 1021.7v5M344.1 1025.0v4M437.9 1028.3v5M532.5 1031.7v4M628.2 1035.1v5M724.7 1038.5v4M822.3 1042.0v5M920.8 1045.5v4M1020.4 1049.0v5" stroke="#000" stroke-width="2.4" fill="none"/>
<text transform="translate(37.52,1066.30) scale(1.0385,1.0333)" font-size="60" font-family="Liberation Serif, serif" font-weight="bold">0</text>
<text transform="translate(208.25,1077.40) scale(1.0182,1.0462)" font-size="60" font-family="Liberation Serif, serif" font-weight="bold">20</text>
<text transform="translate(398.00,1081.00) scale(1.0000,1.0000)" font-size="60" font-family="Liberation Serif, serif" font-weight="bold">40</text>
<text transform="translate(585.05,1089.00) scale(0.9750,1.0000)" font-size="60" font-family="Liberation Serif, serif" font-weight="bold">60</text>
<text transform="translate(779.07,1096.00) scale(0.9643,1.0000)" font-size="60" font-family="Liberation Serif, serif" font-weight="bold">80</text>
<text transform="translate(969.08,1097.00) scale(0.9831,1.0000)" font-size="60" font-family="Liberation Serif, serif" font-weight="bold">100</text>
<text transform="translate(1135.96,149.10) scale(1.0145,1.0205)" font-size="60" font-family="Liberation Serif, serif" font-weight="bold">25</text>
<text transform="translate(1134.52,297.00) scale(1.0600,1.0769)" font-size="60" font-family="Liberation Serif, serif" font-weight="bold">20</text>
<text transform="translate(1137.86,440.00) scale(0.9679,1.0256)" font-size="60" font-family="Liberation Serif, serif" font-weight="bold">15</text>
<text transform="translate(1135.81,583.00) scale(1.0377,1.0256)" font-size="60" font-family="Liberation Serif, serif" font-weight="bold">10</text>
<text transform="translate(1136.92,725.00) scale(1.0385,0.9744)" font-size="60" font-family="Liberation Serif, serif" font-weight="bold">5</text>
<text transform="translate(1125.11,894.20) scale(0.9896,0.9778)" font-size="54" font-family="Liberation Serif, serif" font-weight="bold">HT-3</text>
<text transform="translate(1102.99,938.40) scale(1.0104,1.0000)" font-size="54" font-family="Liberation Serif, serif" font-weight="bold">HT-2</text>
<text transform="translate(1084.89,985.00) scale(1.1123,1.0667)" font-size="54" font-family="Liberation Serif, serif" font-weight="bold">HT-1</text>
<text transform="translate(1058.77,1038.20) scale(1.0339,1.0222)" font-size="54" font-family="Liberation Serif, serif" font-weight="bold">As-HIP</text>
<text transform="translate(299.36,1175.50) scale(0.9861,1.0327)" font-size="73" font-family="Liberation Serif, serif" font-weight="bold">Grain size, μm</text>
<text transform="translate(1278.89,769.59) rotate(-90) scale(0.9880,0.9632)" font-size="74" font-family="Liberation Serif, serif" font-weight="bold">Number frequency, %</text>
</svg></body></html>
